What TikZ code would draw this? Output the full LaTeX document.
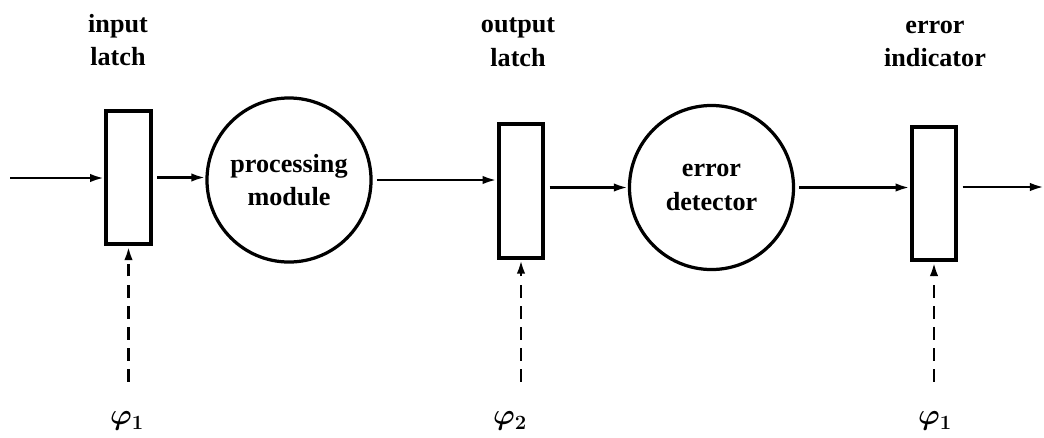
\documentclass[tikz,border=0pt]{standalone}
\usepackage{bm}
\usepackage{fontspec}
\setmainfont{Liberation Serif}
\usetikzlibrary{arrows.meta,positioning}

\begin{document}
\begin{tikzpicture}[
  x=0.025cm, y=-0.025cm,
  every node/.style={font=\fontsize{18.6}{24}\selectfont\bfseries},
  latchbox/.style={draw,line width=2.8pt,minimum width=1.12cm,minimum height=3.33cm,inner sep=0pt},
  modcircle/.style={draw,circle,line width=2.3pt,minimum size=4.1cm,align=center,inner sep=0pt},
  flow/.style={-{Latex[length=10pt,width=6pt]},line width=1.8pt,shorten <=3pt},
  clk/.style={-{Latex[length=10pt,width=6pt]},line width=2pt,dash pattern=on 9pt off 6pt,shorten <=20pt},
  phase/.style={inner sep=1pt,font=\fontsize{22}{24}\selectfont},
]
  \useasboundingbox (0,0) rectangle (1044,437);

  % Latches
  \node[latchbox] (inlatch) at (128.5,177.5) {};
  \node[latchbox] (outlatch) at (521,191) {};
  \node[latchbox] (errind) at (934,193.5) {};

  % Modules
  \node[modcircle] (procmod) at (289,180) {processing\\module};
  \node[modcircle] (errdet) at (711.5,187.5) {error\\detector};

  % Labels
  \node[align=center] (lblin) at (118,40) {input\\latch};
  \node[align=center] (lblout) at (518,42) {output\\latch};
  \node[align=center] (lblerr) at (935,44) {error\\indicator};

  % Clock phases
  \node[phase] (phiA) at (127,421) {$\bm{\varphi}_{\bm{1}}$};
  \node[phase] (phiB) at (510,421) {$\bm{\varphi}_{\bm{2}}$};
  \node[phase] (phiC) at (935,421) {$\bm{\varphi}_{\bm{1}}$};

  % Data path
  \coordinate (in) at (10,178);
  \coordinate (out) at (1044,187);
  \draw[flow,shorten <=0pt] (in) -- (inlatch.west |- in);
  \draw[flow] (inlatch.east) -- (inlatch.east -| procmod.west);
  \draw[flow] (procmod.east) -- (procmod.east -| outlatch.west);
  \draw[flow] (outlatch.east |- errdet.west) -- (errdet.west);
  \draw[flow] (errdet.east) -- (errdet.east -| errind.west);
  \draw[flow] (errind.east |- out) -- (out);

  % Clock inputs
  \draw[clk] (inlatch.south |- phiA.north) -- (inlatch.south);
  \draw[clk] (outlatch.south |- phiB.north) -- (outlatch.south);
  \draw[clk] (errind.south |- phiC.north) -- (errind.south);
\end{tikzpicture}
\end{document}
